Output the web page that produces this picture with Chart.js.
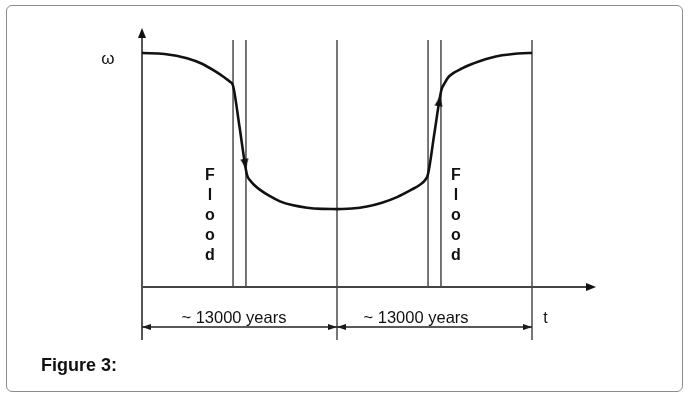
<!DOCTYPE html>
<html><head><meta charset="utf-8">
<script src="https://cdn.jsdelivr.net/npm/chart.js@4/dist/chart.umd.min.js"></script>
<style>
html,body{margin:0;padding:0;background:#fff;}
#wrap{position:relative;width:689px;height:398px;overflow:hidden;}
#frame{position:absolute;left:6px;top:5px;width:677px;height:387px;border:1.5px solid #8c8c8c;border-radius:6px;box-sizing:border-box;}
canvas{position:absolute;left:0;top:0;}
</style></head>
<body>
<div id="wrap"><div id="frame"></div><canvas id="c" width="689" height="398"></canvas></div>
<script>
// ---- data (x in thousands of years, y = relative ω) ----
const leftCurveX  = [0, 1.5, 3, 4, 5, 5.5, 5.85, 6.07, 6.5, 7.0, 7.2, 7.5, 7.9, 8.5, 9.2, 10, 11, 12, 13];
const leftCurveY  = [10.0, 9.96, 9.78, 9.54, 9.17, 8.95, 8.78, 8.6, 6.85, 4.79, 4.56, 4.35, 4.14, 3.89, 3.66, 3.50, 3.39, 3.34, 3.33];
const rightCurveX = [13, 14, 15, 16, 17, 18, 18.53, 18.85, 19.07, 19.5, 19.95, 20.15, 20.4, 20.73, 21.3, 21.87, 22.5, 23.2, 24, 24.73, 25.4, 26];
const rightCurveY = [3.33, 3.354, 3.44, 3.60, 3.84, 4.17, 4.37, 4.55, 4.83, 6.6, 8.4, 8.68, 8.95, 9.13, 9.33, 9.5, 9.65, 9.79, 9.9, 9.96, 9.99, 10.0];
const boundaryX      = [6.07, 6.93, 13, 19.07, 19.93, 26];
const boundaryTop    = [10.56, 10.56, 10.56, 10.56, 10.56, 10.56];
const boundaryBottom = [0, 0, -2.26, 0, 0, -2.26];
const yAxisSpan = [-2.26, 10.8];
const xAxisSpan = [0, 29.7];
const spanStart = [0, 13];
const spanEnd   = [13, 26];
const spanLevel = -1.71;
const flowArrowX = [6.93, 19.87];
const flowArrowY = [5.05, 8.15];
const flowArrowAngle = [81, -81];
const axisArrowX = [0, 30.27];
const axisArrowY = [11.07, 0];
const axisArrowAngle = [-90, 0];
const spanLabels = ["~ 13000 years", "~ 13000 years"];
const spanLabelX = [6.13, 18.27];
const floodWord = "Flood";
const floodX = [4.53, 20.93];
const floodTopY = 4.78;
const floodStep = 0.855;
const yLabel = "ω";
const xLabel = "t";
const figCaption = "Figure 3:";

const pts = (xs, ys) => xs.map((v, i) => ({x: v, y: ys[i]}));

function arrowImg(len, half, color) {
  const c = document.createElement('canvas');
  c.width = len * 2; c.height = half * 2;
  const g = c.getContext('2d');
  g.fillStyle = color;
  g.beginPath(); g.moveTo(0, 0); g.lineTo(len, half); g.lineTo(0, half * 2); g.closePath(); g.fill();
  return c;
}
const bigArrow = arrowImg(10, 4, '#111');
const dimArrow = arrowImg(9, 3, '#111');

const datasets = [];
datasets.push({data: pts(leftCurveX, leftCurveY), showLine: true, borderColor: '#111', borderWidth: 2.6, pointRadius: 0, cubicInterpolationMode: 'monotone'});
datasets.push({data: pts(rightCurveX, rightCurveY), showLine: true, borderColor: '#111', borderWidth: 2.6, pointRadius: 0, cubicInterpolationMode: 'monotone'});
datasets.push({data: pts(flowArrowX, flowArrowY), showLine: false, pointStyle: bigArrow, pointRadius: 3, pointRotation: flowArrowAngle});
datasets.push({data: pts(axisArrowX, axisArrowY), showLine: false, pointStyle: bigArrow, pointRadius: 3, pointRotation: axisArrowAngle});
const dimArrowPts = [], dimArrowRot = [];
spanStart.forEach((s, i) => {
  dimArrowPts.push({x: s, y: spanLevel}); dimArrowRot.push(180);
  dimArrowPts.push({x: spanEnd[i], y: spanLevel}); dimArrowRot.push(0);
  datasets.push({data: [{x: s, y: spanLevel}, {x: spanEnd[i], y: spanLevel}], showLine: true, borderColor: '#222', borderWidth: 1.5, pointRadius: 0});
});
datasets.push({data: dimArrowPts, showLine: false, pointStyle: dimArrow, pointRadius: 3, pointRotation: dimArrowRot});
datasets.push({data: [{x: 0, y: yAxisSpan[0]}, {x: 0, y: yAxisSpan[1]}], showLine: true, borderColor: '#555', borderWidth: 2, pointRadius: 0});
datasets.push({data: [{x: xAxisSpan[0], y: 0}, {x: xAxisSpan[1], y: 0}], showLine: true, borderColor: '#444', borderWidth: 2, pointRadius: 0});
boundaryX.forEach((bx, i) => {
  datasets.push({data: [{x: bx, y: boundaryBottom[i]}, {x: bx, y: boundaryTop[i]}], showLine: true, borderColor: '#555', borderWidth: 1.6, pointRadius: 0});
});

const FONT = '"Liberation Sans", Arial, sans-serif';
const labelsPlugin = {
  id: 'labels',
  afterDatasetsDraw(chart) {
    const {ctx} = chart; const xs = chart.scales.x, ys = chart.scales.y;
    ctx.save();
    ctx.fillStyle = '#111';
    ctx.textAlign = 'center'; ctx.textBaseline = 'middle';
    ctx.font = '17px ' + FONT;
    ctx.fillText(yLabel, xs.getPixelForValue(-2.27), ys.getPixelForValue(9.75));
    ctx.font = '16px ' + FONT;
    ctx.fillText(xLabel, xs.getPixelForValue(26.9), ys.getPixelForValue(spanLevel + 0.35));
    ctx.font = '16.5px ' + FONT;
    spanLabels.forEach((t, i) => ctx.fillText(t, xs.getPixelForValue(spanLabelX[i]), ys.getPixelForValue(spanLevel + 0.35)));
    ctx.font = 'bold 16px ' + FONT;
    floodX.forEach(fx => {
      [...floodWord].forEach((ch, k) => ctx.fillText(ch, xs.getPixelForValue(fx), ys.getPixelForValue(floodTopY - k * floodStep)));
    });
    ctx.textAlign = 'left'; ctx.textBaseline = 'alphabetic';
    ctx.font = 'bold 18px ' + FONT;
    ctx.fillText(figCaption, 41, 371);
    ctx.restore();
  }
};

new Chart(document.getElementById('c'), {
  type: 'scatter',
  data: {datasets},
  options: {
    responsive: false, animation: false,
    layout: {padding: {left: 112, right: 82, top: 6.2, bottom: 17.4}},
    plugins: {legend: {display: false}, tooltip: {enabled: false}},
    elements: {line: {borderCapStyle: 'butt'}},
    scales: {
      x: {type: 'linear', min: -2, max: 31, display: false},
      y: {type: 'linear', min: -4, max: 12, display: false}
    }
  },
  plugins: [labelsPlugin]
});
</script>
</body></html>
